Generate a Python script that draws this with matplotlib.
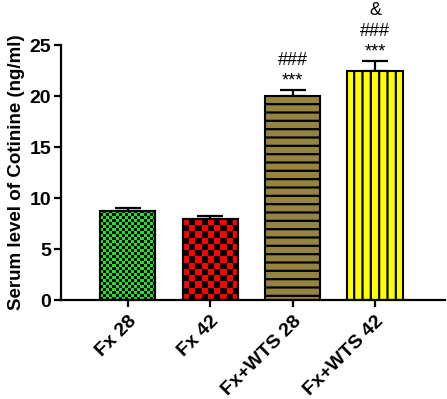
import numpy as np
import matplotlib.pyplot as plt

plt.rcParams['font.family'] = ['Liberation Sans', 'DejaVu Sans']
plt.rcParams['hatch.linewidth'] = 1.6

groups = ['Fx 28', 'Fx 42', 'Fx+WTS 28', 'Fx+WTS 42']
means = [8.75, 7.9, 20.05, 22.45]
errs = [0.3, 0.35, 0.55, 1.0]
marks = ['', '', '###\n***', '&\n###\n***']

colors = ['#1ee61e', '#ff0000', '#948440', '#ffff00']
hatches = [None, None, '--', '||']
checker = [3, 6]  # square size in px for the checkered bars

fig = plt.figure(figsize=(4.47, 3.99), dpi=100)
ax = fig.add_axes([0.1365, 0.248, 0.859, 0.639])

x = np.arange(len(groups))
bars = ax.bar(x, means, width=0.67, color=colors, edgecolor='black',
              linewidth=1.5, zorder=2)
for b, h in zip(bars, hatches):
    if h:
        b.set_hatch(h)

ax.errorbar(x, means, yerr=[np.zeros(len(errs)), errs], fmt='none',
            ecolor='black', elinewidth=1.6, capsize=9.5, capthick=1.6,
            zorder=1)

ax.set_xlim(-0.81, 3.85)
ax.set_ylim(0, 25)
ax.set_yticks([0, 5, 10, 15, 20, 25])
ax.set_xticks(x)
ax.set_xticklabels(groups, rotation=45, ha='right', rotation_mode='anchor',
                   fontsize=14, fontweight='bold')
ax.tick_params(axis='y', labelsize=14, width=1.6, length=5, pad=2)
ax.tick_params(axis='x', width=1.6, length=5, pad=4)
for lbl in ax.get_yticklabels():
    lbl.set_fontweight('bold')
ax.set_ylabel('Serum level of Cotinine (ng/ml)', fontsize=13.5,
              fontweight='bold', labelpad=3)

for s in ['top', 'right']:
    ax.spines[s].set_visible(False)
for s in ['left', 'bottom']:
    ax.spines[s].set_linewidth(1.6)

# checkered texture for the first two bars, clipped to the bar shape
fig.canvas.draw()
for b, sq in zip(bars[:2], checker):
    x0, y0 = b.get_x(), 0
    x1, y1 = x0 + b.get_width(), b.get_height()
    p0 = ax.transData.transform((x0, y0))
    p1 = ax.transData.transform((x1, y1))
    nx = max(1, int(round((p1[0] - p0[0]) / sq)))
    ny = max(1, int(round((p1[1] - p0[1]) / sq)))
    yy, xx = np.indices((ny, nx))
    pat = ((xx + yy) % 2).astype(float)
    rgba = np.zeros((ny, nx, 4))
    rgba[..., 3] = pat
    im = ax.imshow(rgba, extent=(x0, x1, y0, y1), aspect='auto',
                   interpolation='nearest', zorder=2.5)
    im.set_clip_path(b)
    outline = plt.Rectangle((x0, y0), x1 - x0, y1 - y0, fill=False,
                            edgecolor='black', linewidth=1.5, zorder=3)
    ax.add_patch(outline)

for xi, m, e, t in zip(x, means, errs, marks):
    if t:
        ax.annotate(t, xy=(xi, m + e), xytext=(0, 0), textcoords='offset points',
                    ha='center', va='bottom', fontsize=13, linespacing=1.3,
                    annotation_clip=False)

fig.savefig('out.png', dpi=100)
